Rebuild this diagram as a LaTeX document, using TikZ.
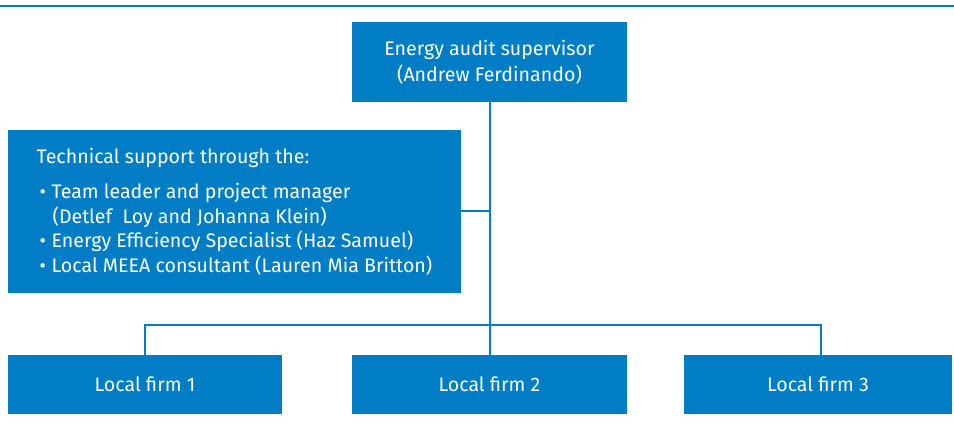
\documentclass[tikz,border=0pt]{standalone}
\usepackage{fontspec}
\setmainfont{Fira Sans}
\definecolor{orgblue}{RGB}{0,125,197}

\begin{document}
\begin{tikzpicture}[x=0.5pt, y=0.5pt,
    box/.style={fill=orgblue, text=white, inner sep=0pt, align=center,
        font=\fontsize{9.8}{13}\selectfont},
    link/.style={draw=orgblue, line width=1pt}]
    % Frame of the page
    \useasboundingbox (0,0) rectangle (954,426);

    % Rule across the top
    \draw[link] (0,419.5) -- (954,419.5);

    % Supervisor
    \node[box, minimum width=137.5pt, minimum height=40pt] (sup) at (489.5,364)
        {Energy audit supervisor\\(Andrew Ferdinando)};

    % Technical support box
    \node[box, minimum width=226.5pt, minimum height=81.5pt,
        align=left, font=\fontsize{9.8}{12.25}\selectfont] (tech) at (234.5,214.5)
        {Technical support through the:\\[5.5pt]
         \hspace*{1.5pt}\makebox[6pt][l]{\textbullet}Team leader and project manager\\
         \hspace*{8pt}(Detlef\ \ Loy and Johanna Klein)\\
         \hspace*{1.5pt}\makebox[6pt][l]{\textbullet}Energy Efficiency Specialist (Haz Samuel)\\
         \hspace*{1.5pt}\makebox[6pt][l]{\textbullet}Local MEEA consultant (Lauren Mia Britton)};

    % Local firms
    \node[box, minimum width=137pt, minimum height=29.5pt] (firm1) at (145,41.5) {Local firm 1};
    \node[box, minimum width=137.5pt, minimum height=29.5pt] (firm2) at (489.5,41.5) {Local firm 2};
    \node[box, minimum width=134pt, minimum height=29.5pt] (firm3) at (818,41.5) {Local firm 3};

    % Connectors
    \coordinate (bus) at (489.5,101);
    \draw[link] (sup.south) -- (firm2.north);
    \draw[link] (tech.east) -- (tech.east -| sup.south);
    \draw[link] (firm1.north) |- (bus) -| ([xshift=1.5pt]firm3.north);
\end{tikzpicture}
\end{document}
